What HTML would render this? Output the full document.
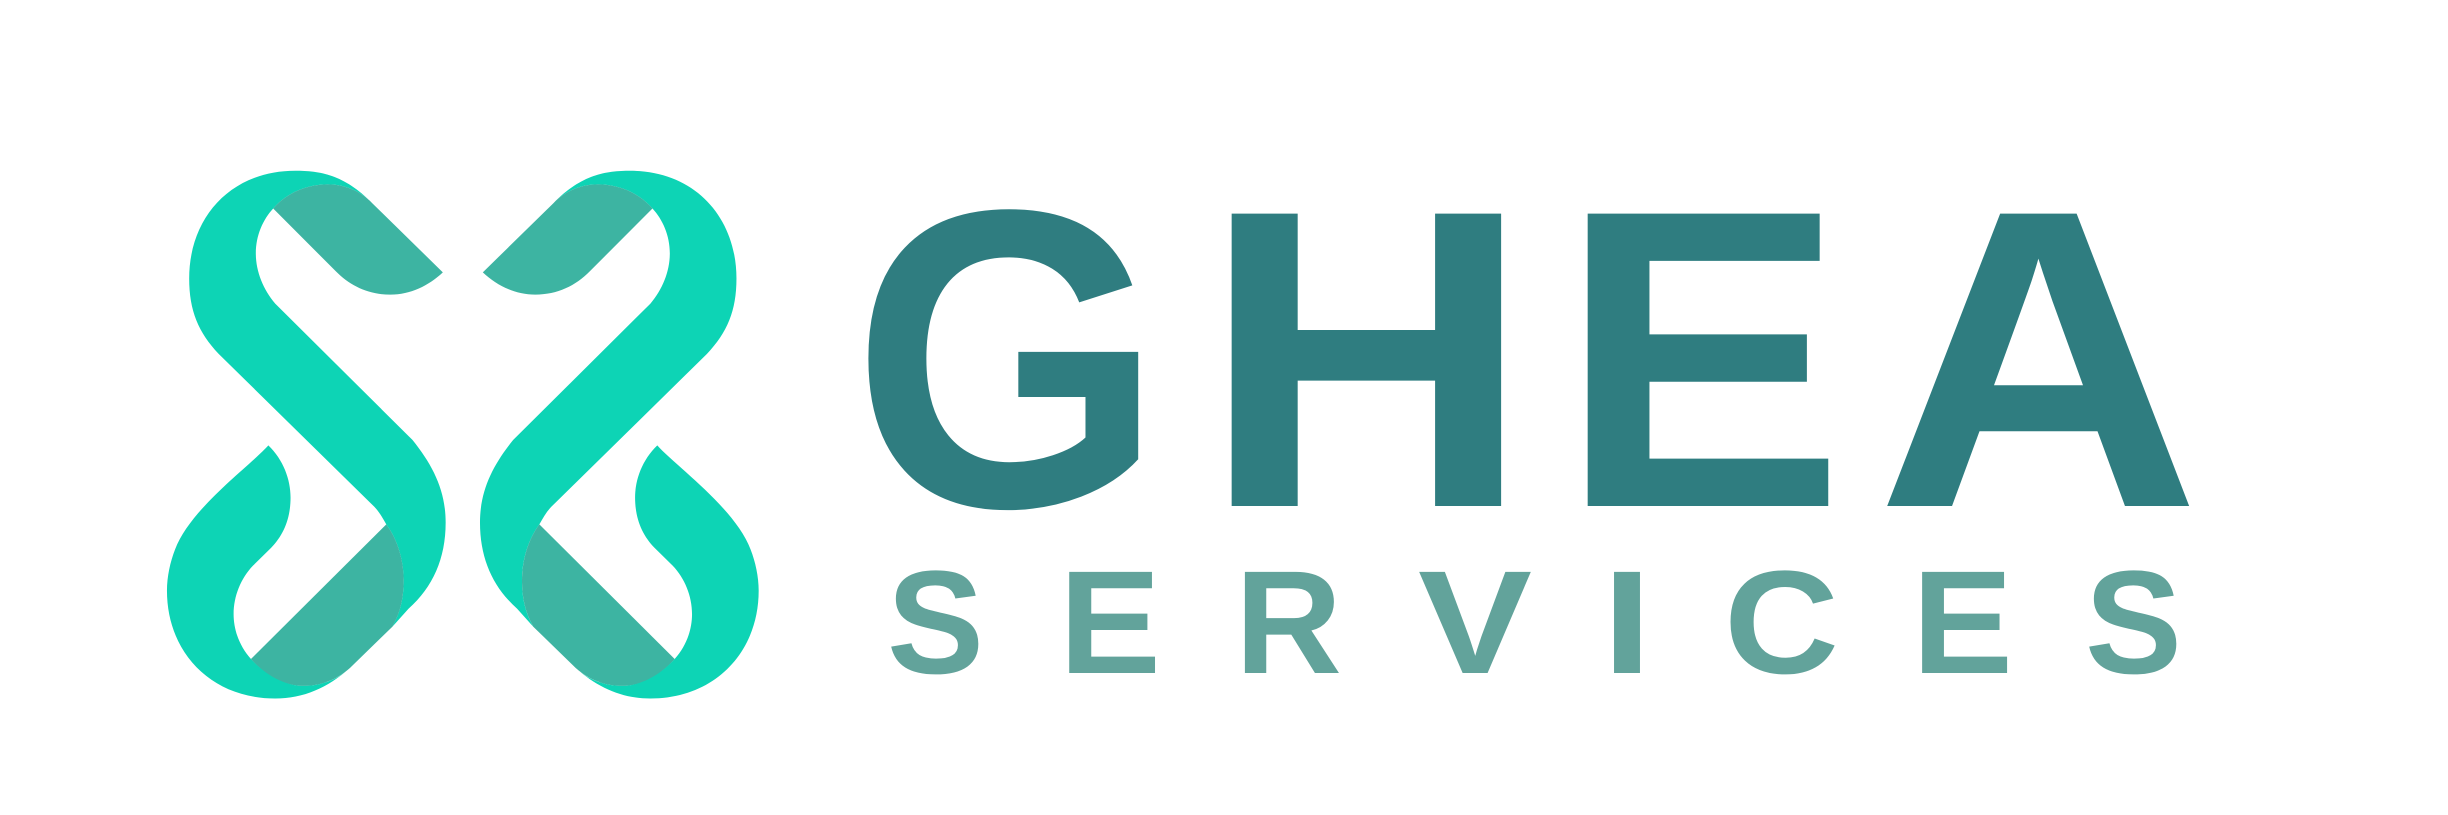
<!DOCTYPE html>
<html><head><meta charset="utf-8"><style>
html,body{margin:0;padding:0;background:#fff;width:2448px;height:815px;overflow:hidden}
svg{display:block}
</style></head><body>
<svg width="2448" height="815" viewBox="0 0 2448 815" xmlns="http://www.w3.org/2000/svg">
<defs>
<g id="half">
<path fill="#0dd4b5" d="M550,120 C480,40 420,30 360,30 C200,30 97,160 97,330 C97,420 120,480 170,540 L550,960 C565,975 575,995 585,1015 C615,1060 628,1120 628,1170 C628,1220 620,1260 600,1300 L640,1250 C700,1190 732,1110 732,1010 C732,920 700,850 650,780 L310,400 C280,360 262,310 262,260 C262,210 280,165 305,135 C340,90 390,68 440,68 C480,68 520,85 550,120 Z"/>
<path fill="#3db4a2" d="M305,135 C340,90 390,68 440,68 C480,68 520,85 550,120 L725,313 C690,350 645,375 595,375 C540,375 495,350 460,310 Z"/>
<path fill="#3db4a2" d="M250,1390 L585,1015 C615,1060 628,1120 628,1170 C628,1220 620,1260 600,1300 L495,1415 C460,1450 420,1465 380,1465 C330,1465 285,1435 250,1390 Z"/>
<path fill="#0dd4b5" d="M293,795 C330,835 348,890 348,940 C348,1000 330,1045 300,1080 L255,1130 C225,1165 207,1215 207,1265 C207,1310 222,1355 250,1390 C290,1440 340,1465 380,1465 C420,1465 460,1450 490,1420 L495,1415 C440,1470 380,1500 310,1500 C150,1500 42,1370 42,1200 C42,1160 50,1120 62,1085 C100,970 250,850 293,795 Z"/>
</g>
</defs>
<g transform="translate(150,160) scale(0.4039,0.359)">
<use href="#half"/>
<use href="#half" transform="translate(1549,0) scale(-1,1)"/>
</g>
<g fill="#2f7d80" font-family="'Liberation Sans',sans-serif" font-weight="bold" font-size="425">
<text x="852" y="506" textLength="311" lengthAdjust="spacingAndGlyphs">G</text>
<text x="1201" y="506" textLength="331" lengthAdjust="spacingAndGlyphs">H</text>
<text x="1559" y="506" textLength="286" lengthAdjust="spacingAndGlyphs">E</text>
<text x="1876" y="506" textLength="325" lengthAdjust="spacingAndGlyphs">A</text>
</g>
<g fill="#62a39b" font-family="'Liberation Sans',sans-serif" font-weight="bold" font-size="147">
<text x="887" y="673" textLength="97" lengthAdjust="spacingAndGlyphs">S</text>
<text x="1059" y="673" textLength="102" lengthAdjust="spacingAndGlyphs">E</text>
<text x="1235" y="673" textLength="107" lengthAdjust="spacingAndGlyphs">R</text>
<text x="1418" y="673" textLength="114" lengthAdjust="spacingAndGlyphs">V</text>
<text x="1602" y="673" textLength="50" lengthAdjust="spacingAndGlyphs">I</text>
<text x="1724" y="673" textLength="115" lengthAdjust="spacingAndGlyphs">C</text>
<text x="1912" y="673" textLength="101" lengthAdjust="spacingAndGlyphs">E</text>
<text x="2085" y="673" textLength="97" lengthAdjust="spacingAndGlyphs">S</text>
</g>
</svg>
</body></html>
